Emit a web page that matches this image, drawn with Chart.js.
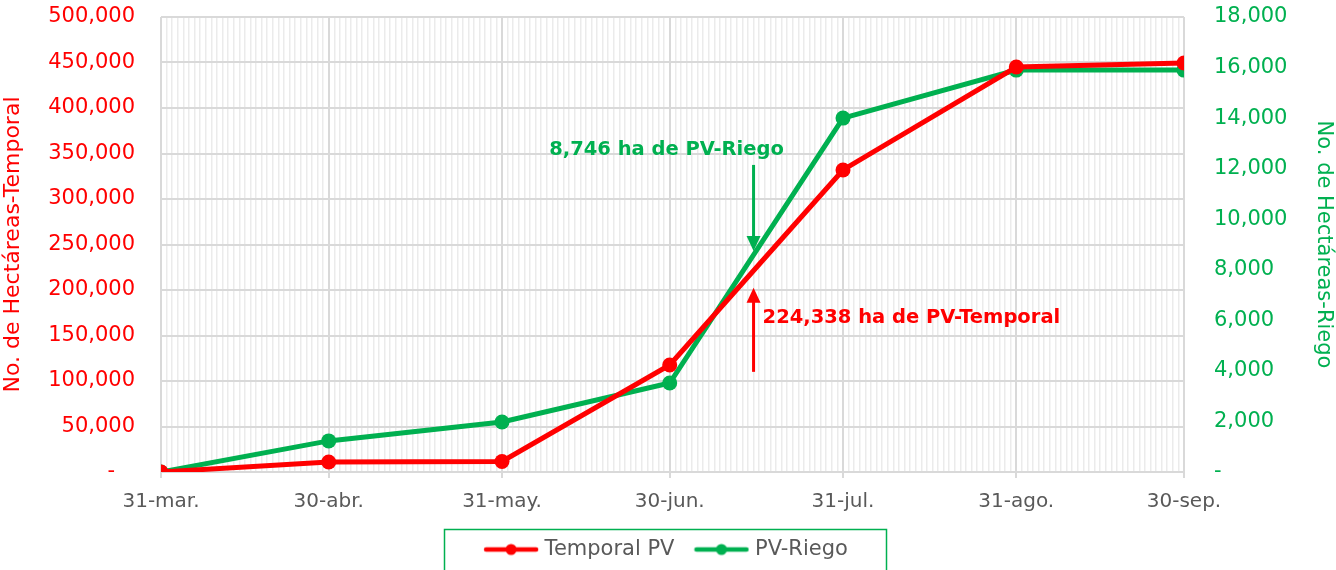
<!DOCTYPE html>
<html>
<head>
<meta charset="utf-8">
<script src="https://cdn.jsdelivr.net/npm/chart.js@4/dist/chart.umd.min.js"></script>
<style>
  html, body { margin: 0; padding: 0; background: #fff; }
  #wrap { width: 1336px; height: 570px; }
</style>
</head>
<body>
<div id="wrap"><canvas id="myChart" width="1336" height="570"></canvas></div>
<script>
const dateLabels = ["31-mar.", "30-abr.", "31-may.", "30-jun.", "31-jul.", "31-ago.", "30-sep."];
const dayOffsets = [0, 30, 61, 91, 122, 153, 183];
const temporalPV = [0, 11000, 11500, 117600, 331900, 445000, 449500];
const riegoPV = [0, 1230, 1980, 3520, 14000, 15900, 15900];
const leftTicks = { min: 0, max: 500000, step: 50000 };
const rightTicks = { min: 0, max: 18000, step: 2000 };
const noteDay = 106;
const noteRiego = 8746;
const noteTemporal = 224338;

const RED = "#FF0000";
const GREEN = "#00B050";
const FONT = "DejaVu Sans";

function legendIcon(color) {
  const c = document.createElement("canvas");
  c.width = 56; c.height = 14;
  const g = c.getContext("2d");
  g.strokeStyle = color; g.lineWidth = 4.5; g.lineCap = "round";
  g.beginPath(); g.moveTo(3, 7); g.lineTo(53, 7); g.stroke();
  g.fillStyle = color;
  g.beginPath(); g.arc(28, 7, 5.5, 0, Math.PI * 2); g.fill();
  return c;
}

const pts = (vals) => vals.map((v, i) => ({ x: dayOffsets[i], y: v }));
const isMajor = (c) => c.tick && dayOffsets.includes(c.tick.value);
const noPad = (s) => { s.paddingTop = 0; s.paddingBottom = 0; };

const extras = {
  id: "extras",
  afterDatasetsDraw(chart) {
    const { ctx, scales } = chart;
    const x = scales.x.getPixelForValue(noteDay);
    ctx.save();
    // green arrow (down)
    const gTip = scales.y1.getPixelForValue(noteRiego);
    ctx.strokeStyle = GREEN; ctx.fillStyle = GREEN; ctx.lineWidth = 3;
    ctx.beginPath(); ctx.moveTo(x, gTip - 86); ctx.lineTo(x, gTip - 12); ctx.stroke();
    ctx.beginPath(); ctx.moveTo(x - 7, gTip - 15); ctx.lineTo(x + 7, gTip - 15); ctx.lineTo(x, gTip); ctx.closePath(); ctx.fill();
    ctx.font = "bold 19.5px '" + FONT + "'";
    ctx.textAlign = "center"; ctx.textBaseline = "middle";
    ctx.fillText("8,746 ha de PV-Riego", x - 87, gTip - 101);
    // red arrow (up)
    const rTip = scales.y.getPixelForValue(noteTemporal) + 20;
    ctx.strokeStyle = RED; ctx.fillStyle = RED;
    ctx.beginPath(); ctx.moveTo(x, rTip + 84); ctx.lineTo(x, rTip + 12); ctx.stroke();
    ctx.beginPath(); ctx.moveTo(x - 7, rTip + 15); ctx.lineTo(x + 7, rTip + 15); ctx.lineTo(x, rTip); ctx.closePath(); ctx.fill();
    ctx.textAlign = "left";
    ctx.fillText("224,338 ha de PV-Temporal", x + 9, rTip + 30);
    ctx.restore();
  },
  afterDraw(chart) {
    const { ctx } = chart;
    ctx.save();
    ctx.strokeStyle = GREEN; ctx.lineWidth = 1.5;
    ctx.strokeRect(444.5, 529.5, 442, 60);
    ctx.restore();
  }
};

const config = {
  type: "line",
  data: {
    datasets: [
      {
        label: "Temporal PV",
        data: pts(temporalPV),
        yAxisID: "y",
        borderColor: RED,
        backgroundColor: RED,
        borderWidth: 5,
        pointRadius: 7.5,
        pointBorderWidth: 0,
        pointBackgroundColor: RED,
      },
      {
        label: "PV-Riego",
        data: pts(riegoPV),
        yAxisID: "y1",
        borderColor: GREEN,
        backgroundColor: GREEN,
        borderWidth: 5,
        pointRadius: 7.5,
        pointBorderWidth: 0,
        pointBackgroundColor: GREEN,
      },
    ],
  },
  options: {
    responsive: false,
    animation: false,
    layout: { padding: { top: 17, left: 0, right: 0, bottom: 0 } },
    elements: { line: { tension: 0 } },
    scales: {
      x: {
        type: "linear",
        min: 0,
        max: 183,
        afterBuildTicks: (s) => { s.ticks = []; for (let d = 0; d <= 183; d++) s.ticks.push({ value: d }); },
        afterFit: (s) => { s.height = 43; },
        grid: {
          color: (c) => isMajor(c) ? "#d9d9d9" : "#ebebeb",
          tickColor: (c) => isMajor(c) ? "#d9d9d9" : "rgba(0,0,0,0)",
          tickLength: 6,
          lineWidth: (c) => isMajor(c) ? 2 : 1.5,
        },
        border: { color: "#d9d9d9", width: 2 },
        ticks: {
          autoSkip: false,
          maxRotation: 0,
          color: "#595959",
          font: { family: FONT, size: 20 },
          padding: 12,
          callback: (v) => { const i = dayOffsets.indexOf(v); return i >= 0 ? dateLabels[i] : ""; },
        },
      },
      y: {
        position: "left",
        min: leftTicks.min,
        max: leftTicks.max,
        afterFit: (s) => { s.width = 161; noPad(s); },
        ticks: {
          stepSize: leftTicks.step,
          color: RED,
          font: { family: FONT, size: 21 },
          padding: 26,
          callback: (v) => v === 0 ? "-   " : v.toLocaleString("en-US"),
        },
        grid: { color: "#d9d9d9", lineWidth: 2, drawTicks: false },
        border: { display: false },
        title: {
          display: true,
          text: "No. de Hectáreas-Temporal",
          color: RED,
          font: { family: FONT, size: 22 },
          padding: { top: 0, bottom: 0 },
        },
      },
      y1: {
        position: "right",
        min: rightTicks.min,
        max: rightTicks.max,
        afterFit: (s) => { s.width = 152; noPad(s); },
        ticks: {
          stepSize: rightTicks.step,
          color: GREEN,
          font: { family: FONT, size: 21 },
          padding: 30,
          callback: (v) => v === 0 ? "-" : v.toLocaleString("en-US"),
        },
        grid: { drawOnChartArea: false, drawTicks: false },
        border: { display: false },
        title: {
          display: true,
          text: "No. de Hectáreas-Riego",
          color: GREEN,
          font: { family: FONT, size: 21 },
          padding: { top: 0, bottom: 0 },
        },
      },
    },
    plugins: {
      legend: {
        position: "bottom",
        labels: {
          usePointStyle: true,
          pointStyleWidth: 46,
          color: "#595959",
          font: { family: FONT, size: 21 },
          padding: 24,
          generateLabels: (chart) =>
            Chart.defaults.plugins.legend.labels.generateLabels(chart).map((it, i) => {
              it.pointStyle = legendIcon(i === 0 ? RED : GREEN);
              return it;
            }),
        },
      },
      tooltip: { enabled: false },
    },
  },
  plugins: [extras],
};

const ctx = document.getElementById("myChart").getContext("2d");
const myChart = new Chart(ctx, config);
</script>
</body>
</html>
